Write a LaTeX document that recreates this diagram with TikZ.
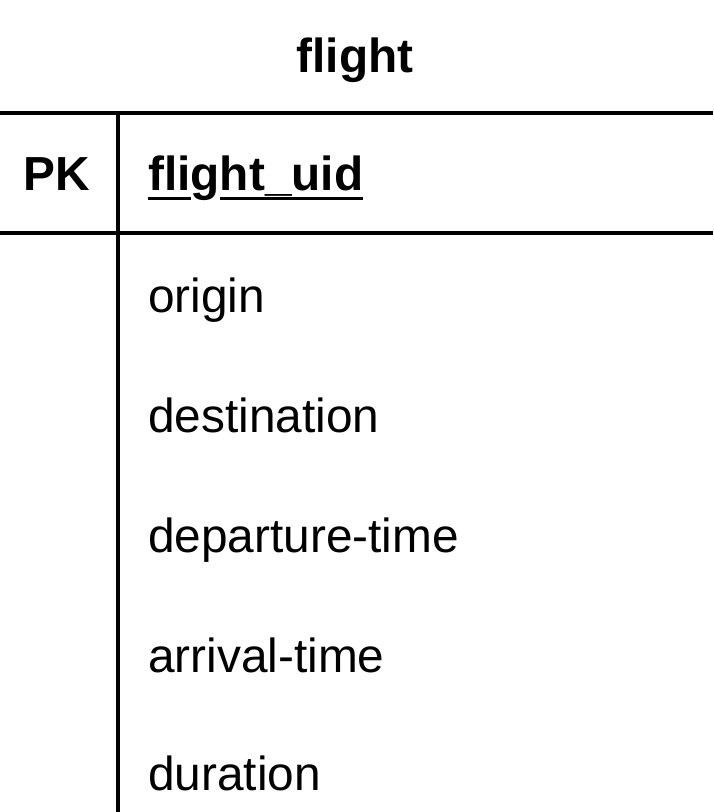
\documentclass[tikz,border=0pt]{standalone}
\usepackage{fontspec}
\setmainfont{Liberation Sans}[Ligatures=CommonOff]
\newcommand{\ulpart}[1]{{\setbox0\hbox{#1}\rlap{\rule[-9.5pt]{\wd0}{3pt}}\box0}}
\begin{document}
\begin{tikzpicture}[x=1pt,y=1pt,
    field/.style={anchor=base west,inner sep=0pt,font=\fontsize{47.8}{56}\selectfont},
    keyfield/.style={field,font=\fontsize{47.8}{56}\selectfont\bfseries},
    rule/.style={line width=3.5pt}]
        \useasboundingbox (0,0) rectangle (713,-812);
        % title
        \node[keyfield,anchor=base] (title) at (355,-72) {flight};
        % table lines
        \draw[rule] (0,-113) -- (713,-113);
        \draw[rule] (0,-233) -- (713,-233);
        \draw[rule] (118,-113) -- (118,-812);
        % key row
        \node[keyfield,anchor=base] (pk) at (57,-190) {PK};
        \node[keyfield] (uid) at (148,-190) {\ulpart{fli}g\ulpart{ht\_uid}};
        % attributes
        \node[field] (origin) at (148,-312) {origin};
        \node[field] (destination) at (148,-432) {destination};
        \node[field] (departure) at (148,-552) {departure-time};
        \node[field] (arrival) at (148,-672) {arrival-time};
        \node[field] (duration) at (148,-790) {duration};
    \end{tikzpicture}
\end{document}
